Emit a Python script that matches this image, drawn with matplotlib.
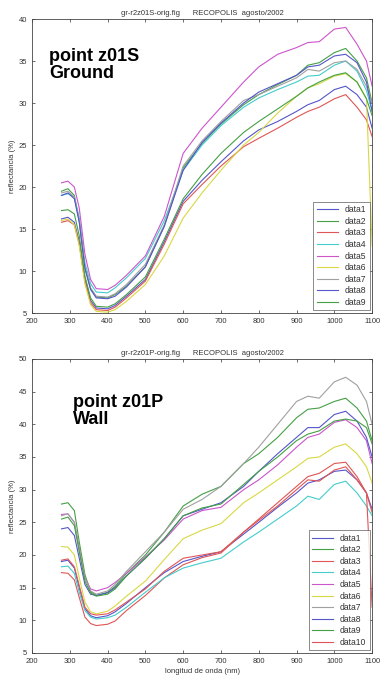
import matplotlib
matplotlib.use("Agg")
import matplotlib.pyplot as plt

# longitudes de onda (nm) de los puntos
wl = [278, 295, 312, 325, 340, 355, 370, 400, 420, 450, 500, 550, 600,
      650, 700, 760, 800, 850, 900, 930, 960, 1000, 1030, 1060, 1085, 1100]

# punto z01S - suelo
g1 = [16.2, 16.4, 15.8, 13.5, 9.0, 6.5, 5.6, 5.5, 5.9, 7.0, 9.0, 13.5, 18.3,
      20.8, 23.0, 25.5, 26.8, 27.8, 29.0, 29.8, 30.3, 31.6, 32.0, 31.0, 29.5, 27.0]
g2 = [19.5, 19.8, 19.0, 16.0, 10.4, 7.9, 6.9, 6.8, 7.2, 8.2, 10.5, 15.4, 22.3,
      25.2, 27.5, 29.8, 31.0, 32.2, 33.3, 34.5, 34.8, 36.0, 36.5, 35.0, 33.0, 30.0]
g3 = [15.8, 16.0, 15.5, 13.2, 8.7, 6.2, 5.4, 5.3, 5.7, 6.8, 8.8, 13.2, 18.0,
      20.3, 22.5, 24.8, 25.8, 27.0, 28.3, 29.0, 29.5, 30.5, 31.0, 29.5, 28.0, 26.0]
g4 = [19.0, 19.2, 18.8, 16.3, 11.0, 8.5, 7.5, 7.4, 8.0, 9.2, 11.5, 16.0, 22.0,
      25.0, 27.3, 29.5, 30.6, 31.6, 32.5, 33.2, 33.3, 34.5, 35.0, 33.8, 31.5, 29.0]
g5 = [20.5, 20.7, 20.0, 17.5, 12.0, 9.0, 7.9, 7.8, 8.3, 9.5, 11.8, 16.5, 24.0,
      27.0, 29.5, 32.5, 34.3, 35.8, 36.6, 37.2, 37.3, 38.8, 39.0, 37.0, 35.0, 32.0]
g6 = [16.0, 16.2, 15.5, 13.0, 8.5, 6.0, 5.2, 5.1, 5.4, 6.4, 8.4, 11.8, 16.3,
      19.3, 22.0, 25.0, 26.5, 28.8, 30.8, 31.8, 32.3, 33.2, 33.5, 32.5, 30.5, 13.0]
g7 = [19.3, 19.5, 18.8, 16.0, 10.5, 8.0, 7.0, 6.9, 7.3, 8.4, 10.8, 15.5, 22.5,
      25.5, 27.8, 30.3, 31.0, 32.0, 33.0, 34.0, 33.8, 34.8, 35.0, 34.0, 32.0, 30.0]
g8 = [19.0, 19.3, 18.6, 15.8, 10.3, 7.8, 6.8, 6.7, 7.0, 8.1, 10.5, 15.3, 22.0,
      25.3, 27.6, 30.0, 31.3, 32.3, 33.3, 34.3, 34.5, 35.6, 35.8, 34.8, 32.5, 29.0]
g9 = [17.2, 17.3, 16.8, 14.2, 9.4, 6.8, 5.8, 5.7, 6.1, 7.2, 9.3, 13.8, 18.6,
      21.5, 24.0, 26.5, 27.8, 29.3, 30.8, 31.8, 32.5, 33.3, 33.6, 32.5, 30.5, 28.5]

# punto z01P - pared
w1 = [19.0, 19.2, 18.0, 15.0, 11.8, 10.7, 10.4, 10.7, 11.3, 12.6, 15.0, 17.3, 19.0,
      19.8, 20.5, 23.2, 25.0, 27.3, 29.5, 31.0, 31.5, 32.8, 33.0, 31.5, 29.5, 27.0]
w2 = [27.8, 28.0, 26.8, 22.0, 17.0, 14.4, 13.8, 14.3, 15.2, 17.2, 20.0, 23.5, 27.5,
      29.3, 30.5, 34.0, 35.5, 38.0, 41.0, 42.3, 42.5, 43.5, 44.0, 42.5, 40.5, 37.5]
w3 = [17.3, 17.2, 16.2, 13.5, 10.5, 9.5, 9.2, 9.4, 9.9, 11.5, 13.8, 16.5, 18.5,
      19.6, 20.3, 23.5, 25.3, 27.5, 30.0, 31.5, 31.3, 33.0, 33.5, 31.5, 29.5, 26.5]
w4 = [18.2, 18.3, 17.2, 14.3, 11.5, 10.5, 10.2, 10.4, 10.8, 12.0, 14.3, 16.5, 18.0,
      18.8, 19.5, 22.0, 23.5, 25.5, 27.5, 29.0, 28.5, 30.8, 31.3, 29.5, 27.5, 26.0]
w5 = [26.2, 26.3, 25.0, 21.0, 16.5, 14.8, 14.5, 15.0, 15.8, 17.2, 19.7, 22.3, 25.5,
      26.8, 27.3, 30.0, 31.5, 33.8, 36.5, 38.0, 38.5, 40.3, 40.7, 39.5, 37.5, 34.0]
w6 = [21.3, 21.2, 20.0, 16.5, 12.8, 11.3, 11.0, 11.4, 12.2, 13.7, 16.0, 19.3, 22.5,
      23.8, 24.8, 28.0, 29.5, 31.5, 33.5, 34.8, 35.0, 36.5, 37.0, 35.5, 33.5, 31.0]
w7 = [26.0, 26.3, 25.0, 21.0, 16.5, 14.5, 14.0, 14.5, 15.5, 17.5, 20.5, 23.5, 27.0,
      28.5, 30.5, 34.0, 36.5, 40.0, 43.5, 44.3, 44.0, 46.5, 47.2, 46.0, 43.5, 40.0]
w8 = [24.0, 24.2, 23.0, 19.5, 15.5, 14.0, 13.8, 14.2, 15.0, 16.8, 19.5, 22.5, 26.0,
      27.0, 28.0, 30.5, 32.8, 35.5, 38.0, 39.5, 39.5, 41.5, 42.0, 40.5, 38.0, 35.0]
w9 = [25.5, 25.8, 24.5, 20.5, 16.0, 14.2, 13.7, 14.0, 14.8, 16.8, 19.5, 22.5, 26.0,
      27.2, 27.8, 30.8, 32.8, 35.0, 37.5, 38.5, 39.0, 40.5, 40.8, 40.5, 39.5, 37.0]
w10 = [19.2, 19.4, 18.2, 15.3, 12.0, 11.0, 10.8, 11.0, 11.6, 12.8, 14.8, 17.5, 19.5,
       20.0, 20.5, 23.5, 25.5, 28.0, 30.5, 32.0, 32.5, 34.0, 34.2, 32.0, 29.5, 12.0]

ground = [g1, g2, g3, g4, g5, g6, g7, g8, g9]
wall = [w1, w2, w3, w4, w5, w6, w7, w8, w9, w10]

# colores estilo MATLAB antiguo (un poco apagados por la imagen)
colores = ["#5555cc", "#44a044", "#e05555", "#44cccc", "#cc55cc",
           "#d8d844", "#a0a0a0", "#5555cc", "#44a044", "#e05555"]

plt.rcParams["font.family"] = ["Liberation Sans", "DejaVu Sans"]


def panel(ax, series, titulo, ymax, etiqueta, pos_texto):
    for i, s in enumerate(series):
        ax.plot(wl, s, color=colores[i], lw=0.8, label="data%d" % (i + 1))
    ax.set_xlim(200, 1100)
    ax.set_ylim(5, ymax)
    ax.set_xticks(range(200, 1101, 100))
    ax.set_yticks(range(5, ymax + 1, 5))
    ax.tick_params(direction="in", labelsize=5.5, length=2.5, width=0.5,
                   colors="#333333", top=True, right=True)
    for sp in ax.spines.values():
        sp.set_linewidth(0.6)
        sp.set_color("#444444")
    ax.set_title(titulo, fontsize=5.5, color="#333333", pad=3)
    ax.set_ylabel("reflectancia (%)", fontsize=5.5, color="#333333", labelpad=2)
    leg = ax.legend(loc="lower right", fontsize=6.2, frameon=True, fancybox=False,
                    handlelength=2.4, labelspacing=0.3, borderpad=0.4,
                    borderaxespad=0.3)
    leg.get_frame().set_edgecolor("#555555")
    leg.get_frame().set_linewidth(0.6)
    for t in leg.get_texts():
        t.set_color("#333333")
    ax.text(pos_texto[0], pos_texto[1], etiqueta, transform=ax.transAxes,
            fontsize=13, fontweight="bold", va="top", ha="left", linespacing=1.0)


fig = plt.figure(figsize=(3.83, 6.79), dpi=100)
ax1 = fig.add_axes([0.0836, 0.539, 0.888, 0.433])
ax2 = fig.add_axes([0.0836, 0.0383, 0.888, 0.433])

panel(ax1, ground, "gr-r2z01S-orig.fig      RECOPOLIS  agosto/2002", 40,
      "point z01S\nGround", (0.05, 0.90))
panel(ax2, wall, "gr-r2z01P-orig.fig      RECOPOLIS  agosto/2002", 50,
      "point z01P\nWall", (0.12, 0.88))
ax2.set_xlabel("longitud de onda (nm)", fontsize=5.5, color="#333333", labelpad=2)

fig.savefig("out.png", dpi=100)
